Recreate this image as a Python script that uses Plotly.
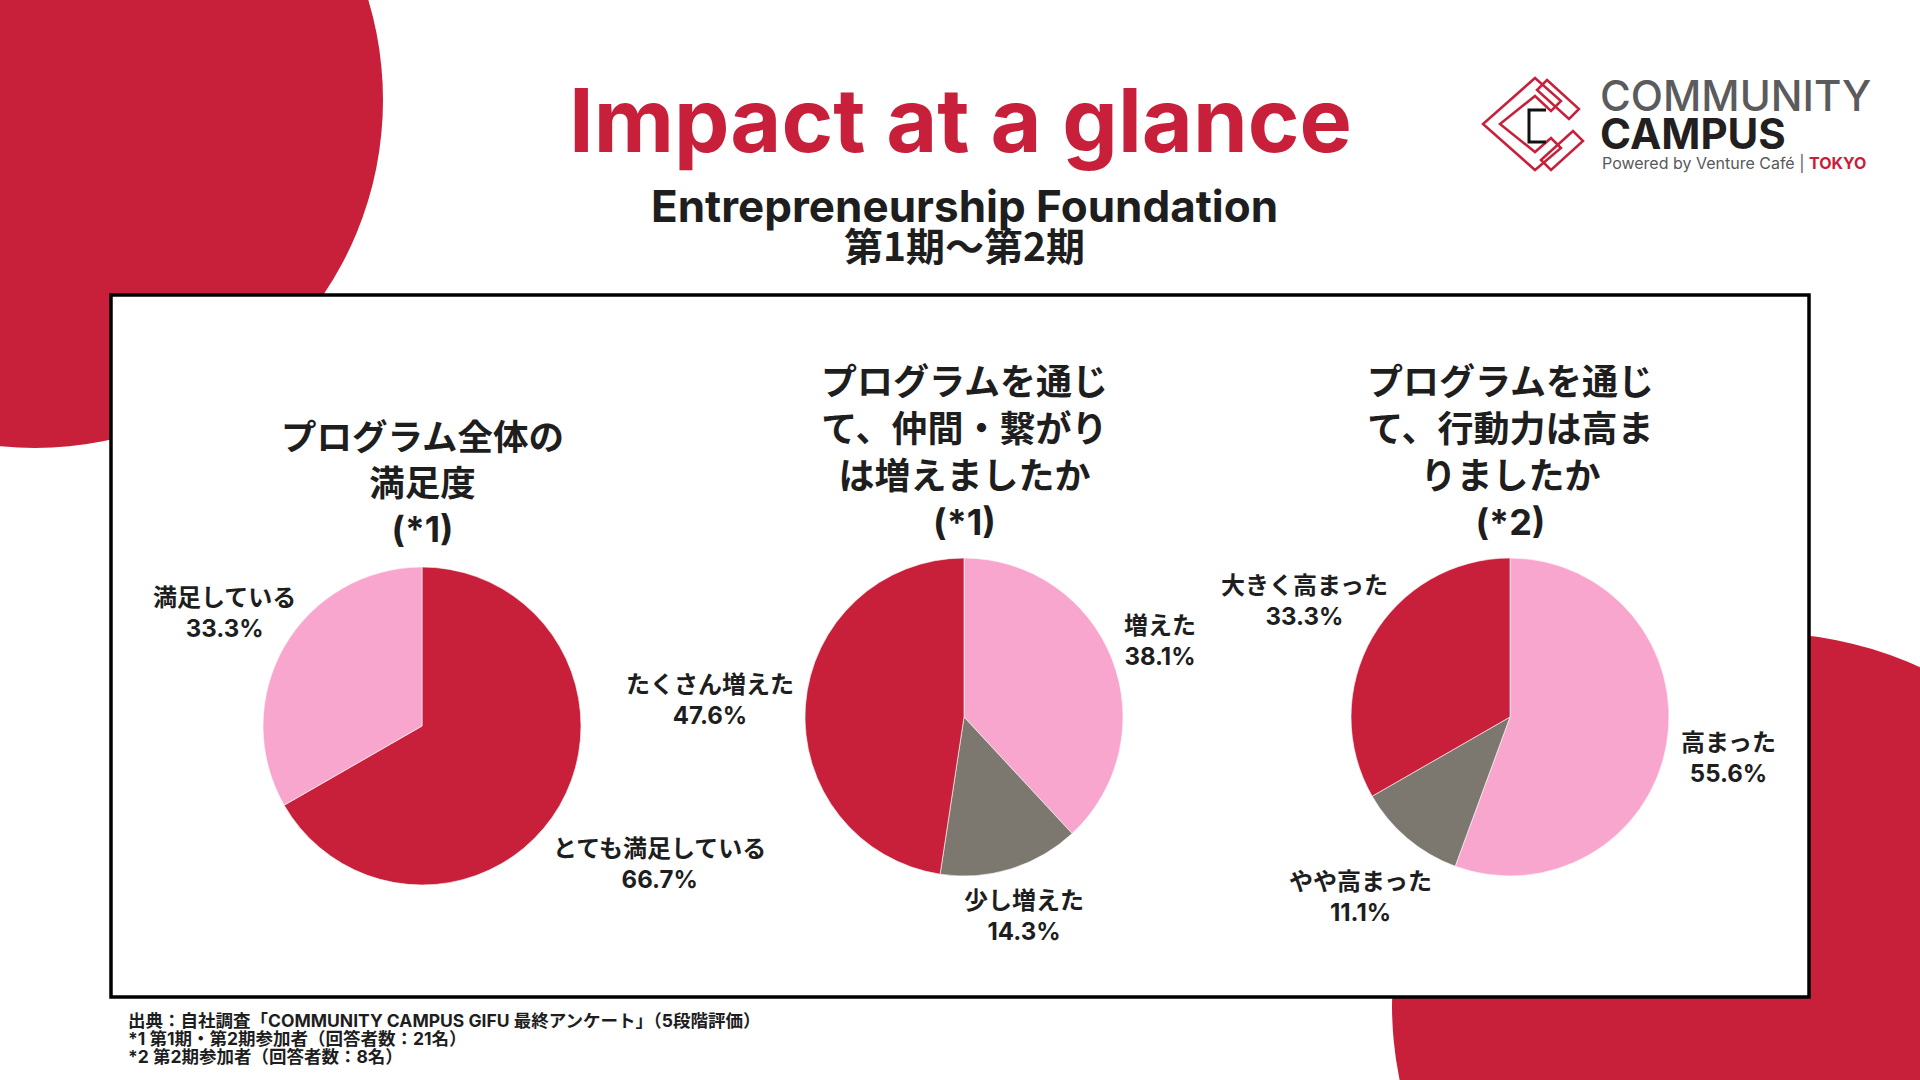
import plotly.graph_objects as go

W, H = 1920, 1080

# ---------------- data ----------------
main_title = "Impact at a glance"
subtitle_1 = "Entrepreneurship Foundation"
subtitle_2 = "第1期〜第2期"

chart_titles = [
    "プログラム全体の<br>満足度<br>(*1)",
    "プログラムを通じ<br>て、仲間・繋がり<br>は増えましたか<br>(*1)",
    "プログラムを通じ<br>て、行動力は高ま<br>りましたか<br>(*2)",
]

pie1_labels = ["とても満足している", "満足している"]
pie1_values = [66.7, 33.3]

pie2_labels = ["増えた", "少し増えた", "たくさん増えた"]
pie2_values = [38.1, 14.3, 47.6]

pie3_labels = ["高まった", "やや高まった", "大きく高まった"]
pie3_values = [55.6, 11.1, 33.3]

footer_lines = [
    "出典：自社調査「COMMUNITY CAMPUS GIFU 最終アンケート」（5段階評価）",
    "*1 第1期・第2期参加者（回答者数：21名）",
    "*2 第2期参加者（回答者数：8名）",
]

# ---------------- styles / layout ----------------
RED = "#C8203A"
PINK = "#F9A6CF"
GRAY = "#7C776F"
DARK = "#1E1E1E"
FONT = "Inter, Noto Sans CJK JP, sans-serif"
JFONT = "Noto Sans CJK JP, Inter, sans-serif"

pie_colors = [[RED, PINK], [PINK, GRAY, RED], [PINK, GRAY, RED]]
pie_centers = [(422, 726), (964, 717), (1510, 717)]
pie_radius = 159
title_pos = [(422, 483), (964, 452), (1510, 452)]
title_sizes = [35.5, 36, 36]
label_pos = [
    [(659, 864), (224, 613)],
    [(1160, 641), (1024, 916), (710, 700)],
    [(1728, 758), (1360, 897), (1304, 601)],
]

pies = [(pie1_labels, pie1_values), (pie2_labels, pie2_values), (pie3_labels, pie3_values)]

fig = go.Figure()

for i, (labs, vals) in enumerate(pies):
    cx, cy = pie_centers[i]
    r = pie_radius
    fig.add_trace(go.Pie(
        labels=labs, values=vals, sort=False, direction="clockwise", rotation=0,
        marker=dict(colors=pie_colors[i], line=dict(color="rgba(255,255,255,0.6)", width=1)),
        textinfo="none", showlegend=False,
        hovertemplate="%{label}: %{value}%<extra></extra>",
        domain=dict(x=[(cx - r) / W, (cx + r) / W], y=[1 - (cy + r) / H, 1 - (cy - r) / H]),
    ))

shapes = [
    # background circles
    dict(type="circle", xref="x", yref="y", x0=35 - 348, y0=100 - 348, x1=35 + 348, y1=100 + 348,
         fillcolor=RED, line=dict(width=0), layer="below"),
    dict(type="circle", xref="x", yref="y", x0=1764 - 372, y0=1005 - 372, x1=1764 + 372, y1=1005 + 372,
         fillcolor=RED, line=dict(width=0), layer="below"),
    # framed panel
    dict(type="rect", xref="x", yref="y", x0=111, y0=295, x1=1809, y1=997,
         fillcolor="white", line=dict(color="black", width=3.5), layer="below"),
    # logo icon
    dict(type="path", xref="x", yref="y",
         path="M1535,78 L1561,101 L1551,111 L1535,96 L1500,124 L1535,152 L1551,138 L1561,148 L1535,170 L1483,124 Z",
         line=dict(color=RED, width=2.5), fillcolor="rgba(0,0,0,0)"),
    dict(type="path", xref="x", yref="y",
         path="M1547,80 L1579,109 L1569,119 L1537,90 Z",
         line=dict(color=RED, width=2.5), fillcolor="rgba(0,0,0,0)"),
    dict(type="path", xref="x", yref="y",
         path="M1541,160 L1573,131 L1583,141 L1551,170 Z",
         line=dict(color=RED, width=2.5), fillcolor="rgba(0,0,0,0)"),
    dict(type="path", xref="x", yref="y",
         path="M1546,110 L1529,110 L1529,142 L1546,142",
         line=dict(color="#111111", width=3), fillcolor="rgba(0,0,0,0)"),
]

ann = []
# headline
ann.append(dict(x=960, y=120, text=f"<b>{main_title}</b>", showarrow=False,
                font=dict(family=FONT, size=88, color=RED, weight=800),
                xanchor="center", yanchor="middle"))
ann.append(dict(x=964, y=206, text=f"<b>{subtitle_1}</b>", showarrow=False,
                font=dict(family=FONT, size=44, color=DARK),
                xanchor="center", yanchor="middle"))
ann.append(dict(x=964, y=244, text=f"<b>{subtitle_2}</b>", showarrow=False,
                font=dict(family=JFONT, size=39, color=DARK),
                xanchor="center", yanchor="middle"))

# chart titles
for i, t in enumerate(chart_titles):
    tx, ty = title_pos[i]
    ann.append(dict(x=tx, y=ty, text=f"<b>{t}</b>", showarrow=False,
                    font=dict(family=FONT, size=title_sizes[i], color=DARK),
                    xanchor="center", yanchor="middle", align="center"))

# slice labels
for i, (labs, vals) in enumerate(pies):
    for j, (lab, v) in enumerate(zip(labs, vals)):
        lx, ly = label_pos[i][j]
        ann.append(dict(x=lx, y=ly, text=f"<b>{lab}<br>{v:.1f}%</b>", showarrow=False,
                        font=dict(family=FONT, size=24, color=DARK),
                        xanchor="center", yanchor="middle", align="center"))

# footer
for k, line in enumerate(footer_lines):
    ann.append(dict(x=126, y=1020 + k * 18, text=f"<b>{line}</b>", showarrow=False,
                    font=dict(family=FONT, size=17.5, color=DARK),
                    xanchor="left", yanchor="middle", align="left"))

# logo text
ann.append(dict(x=1598, y=95, text="COMMUNITY", showarrow=False,
                font=dict(family=FONT, size=42, color="#5B5B5D", weight=500),
                xanchor="left", yanchor="middle"))
ann.append(dict(x=1598, y=133, text="<b>CAMPUS</b>", showarrow=False,
                font=dict(family=FONT, size=42, color="#231F20"),
                xanchor="left", yanchor="middle"))
ann.append(dict(x=1600, y=163, text=f"Powered by Venture Café | <b><span style='color:{RED}'>TOKYO</span></b>",
                showarrow=False, font=dict(family=FONT, size=16, color="#58595B"),
                xanchor="left", yanchor="middle"))

for a in ann:
    a["xref"] = "x"
    a["yref"] = "y"

fig.update_layout(
    width=W, height=H, margin=dict(l=0, r=0, t=0, b=0),
    paper_bgcolor="white", plot_bgcolor="white",
    xaxis=dict(range=[0, W], visible=False, fixedrange=True),
    yaxis=dict(range=[H, 0], visible=False, fixedrange=True),
    shapes=shapes, annotations=ann, showlegend=False,
)

fig.write_html("out.html", config={"displayModeBar": False},
               post_script="document.body.style.margin='0';document.body.style.overflow='hidden';")
